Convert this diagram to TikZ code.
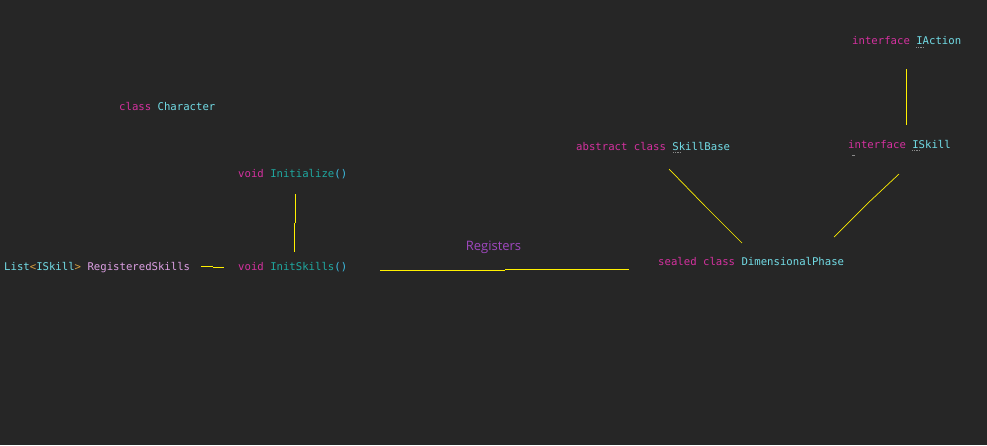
\documentclass[tikz,border=0pt]{standalone}
\usepackage{fontspec}
\setmonofont{DejaVu Sans Mono}
\newfontfamily\labelfont{Open Sans}
\definecolor{bg}{HTML}{262626}
\definecolor{kw}{HTML}{D4319F}
\definecolor{cls}{HTML}{72DCE6}
\definecolor{fn}{HTML}{1FA8A0}
\definecolor{par}{HTML}{3CBCE0}
\definecolor{ang}{HTML}{D8A040}
\definecolor{fld}{HTML}{DDA0E4}
\definecolor{lnk}{HTML}{FFF000}
\definecolor{reg}{HTML}{A048C0}
\definecolor{hint}{HTML}{8A8A8A}
\tikzset{
  code/.style={anchor=west,inner sep=0pt,font=\ttfamily\fontsize{10.65}{12}\selectfont},
  link/.style={draw=lnk,line width=1pt},
  squig/.style={draw=hint,line width=1.2pt,dash pattern=on 1.2pt off 1pt},
}
\begin{document}
\begin{tikzpicture}[x=1pt,y=-1pt]
\fill[bg] (0,0) rectangle (987,445);
\useasboundingbox (0,0) rectangle (987,445);

\node[code] (character) at (119,106) {\textcolor{kw}{class} \textcolor{cls}{Character}};
\node[code] (initialize) at (238,174) {\textcolor{kw}{void} \textcolor{fn}{Initialize}\textcolor{par}{()}};
\node[code] (initskills) at (238,267.5) {\textcolor{kw}{void} \textcolor{fn}{InitSkills}\textcolor{par}{()}};
\node[code] (regskills) at (4,268) {\textcolor{cls}{List}\textcolor{ang}{<}\textcolor{cls}{ISkill}\textcolor{ang}{>} \textcolor{fld}{RegisteredSkills}};
\node[code] (skillbase) at (576,146) {\textcolor{kw}{abstract class} \textcolor{cls}{SkillBase}};
\node[code] (dimphase) at (658,261) {\textcolor{kw}{sealed class} \textcolor{cls}{DimensionalPhase}};
\node[code] (iskill) at (848,144) {\textcolor{kw}{interface} \textcolor{cls}{ISkill}};
\node[code] (iaction) at (852,41) {\textcolor{kw}{interface} \textcolor{cls}{IAction}};
\node[anchor=center,inner sep=0pt,text=reg,font=\labelfont\fontsize{13}{15}\selectfont] (registers) at (493.5,247) {Registers};

% hint squiggles
\draw[squig] (673,152.5) -- (681,152.5);
\draw[squig] (916,47.5) -- (924,47.5);
\draw[squig] (912,150.5) -- (920,150.5);
\draw[draw=hint,line width=1pt] (852,155) -- (855,155);

% connectors
\coordinate (a1) at (295.5,194);
\coordinate (a2) at (295.5,223);
\coordinate (a3) at (294.5,223);
\coordinate (a4) at (294.5,252);
\draw[link] (a1) -- (a2);
\draw[link] (a3) -- (a4);

\coordinate (b1) at (201,266.5);
\coordinate (b2) at (213,266.5);
\coordinate (b3) at (213,267.5);
\coordinate (b4) at (224,267.5);
\draw[link] (b1) -- (b2);
\draw[link] (b3) -- (b4);

\coordinate (c1) at (380,270);
\coordinate (c2) at (505,270);
\coordinate (c3) at (505,269);
\coordinate (c4) at (629,269);
\draw[link] (c1) -- (c2);
\draw[link] (c3) -- (c4);

\coordinate (d1) at (669,169);
\coordinate (d2) at (705,206);
\coordinate (d3) at (742,243);
\draw[draw=lnk,line width=0.7pt] (d1) -- (d2) -- (d3);

\coordinate (e1) at (899,174);
\coordinate (e2) at (867,204);
\coordinate (e3) at (834,237);
\draw[draw=lnk,line width=0.7pt] (e1) -- (e2) -- (e3);

\coordinate (f1) at (906.5,69);
\coordinate (f2) at (906.5,125);
\draw[link] (f1) -- (f2);
\end{tikzpicture}
\end{document}
